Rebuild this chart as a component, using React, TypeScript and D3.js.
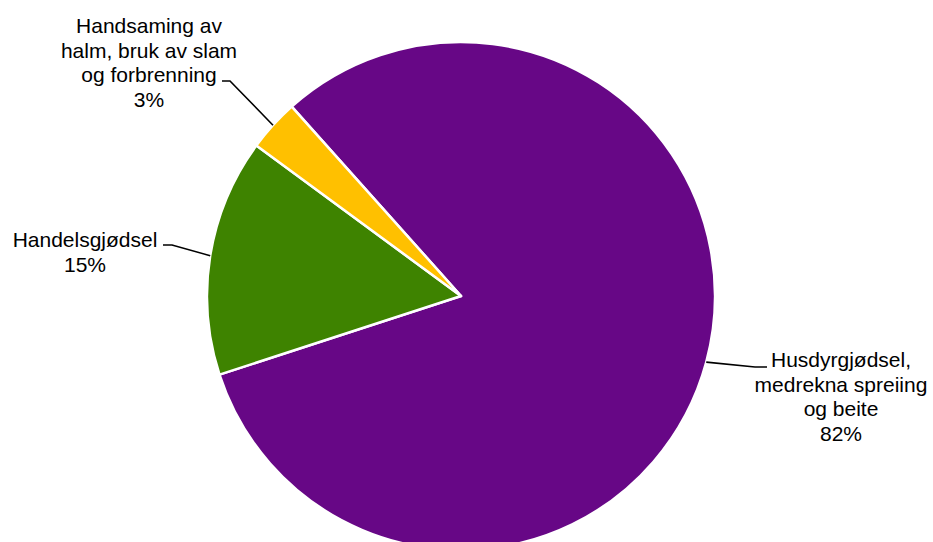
import React from "react";
import * as d3 from "d3";

const categories = [
  "Husdyrgjødsel, medrekna spreiing og beite",
  "Handelsgjødsel",
  "Handsaming av halm, bruk av slam og forbrenning",
];
const values = [81.6, 15.1, 3.3];
const percentLabels = ["82%", "15%", "3%"];
const labelLines = [
  ["Husdyrgjødsel,", "medrekna spreiing", "og beite"],
  ["Handelsgjødsel"],
  ["Handsaming av", "halm, bruk av slam", "og forbrenning"],
];
const colors = ["#670786", "#3E8300", "#FFC000"];

const W = 933;
const H = 542;
const cx = 461;
const cy = 296;
const R = 254;
const startDeg = -41.8;

// label layout: text center x, first baseline y, elbow points
const labelLayout = [
  { x: 841, y: 367, elbow: [755, 367], end: [767, 367], anchor: "middle" },
  { x: 85, y: 247, elbow: [172, 245], end: [163, 245], anchor: "middle" },
  { x: 149, y: 33, elbow: [230, 81], end: [222, 81], anchor: "middle" },
];

export default function App() {
  const data = categories.map((c, i) => ({ c, v: values[i], i }));
  const pie = d3
    .pie<any>()
    .value((d) => d.v)
    .sort(null)
    .startAngle((startDeg * Math.PI) / 180)
    .endAngle((startDeg * Math.PI) / 180 + 2 * Math.PI);
  const arcs = pie(data);
  const arc = d3.arc<any>().innerRadius(0).outerRadius(R);
  const lineH = 24.5;
  return (
    <svg
      width={W}
      height={H}
      style={{ position: "absolute", left: 0, top: 0, fontFamily: "'Liberation Sans', Arial, sans-serif" }}
    >
      <rect width={W} height={H} fill="#fff" />
      <g transform={`translate(${cx},${cy})`}>
        {arcs.map((a, i) => (
          <path key={i} d={arc(a) as string} fill={colors[i]} stroke="#fff" strokeWidth={2.5} strokeLinejoin="round" />
        ))}
      </g>
      {arcs.map((a, i) => {
        const mid = (a.startAngle + a.endAngle) / 2;
        const px = cx + Math.sin(mid) * R;
        const py = cy - Math.cos(mid) * R;
        const L = labelLayout[i];
        const lines = [...labelLines[i], percentLabels[i]];
        return (
          <g key={i}>
            <polyline
              points={`${px},${py} ${L.elbow[0]},${L.elbow[1]} ${L.end[0]},${L.end[1]}`}
              fill="none"
              stroke="#000"
              strokeWidth={1.6}
            />
            <text textAnchor="middle" fontSize={21} fill="#000">
              {lines.map((t, j) => (
                <tspan key={j} x={L.x} y={L.y + j * lineH}>
                  {t}
                </tspan>
              ))}
            </text>
          </g>
        );
      })}
    </svg>
  );
}
